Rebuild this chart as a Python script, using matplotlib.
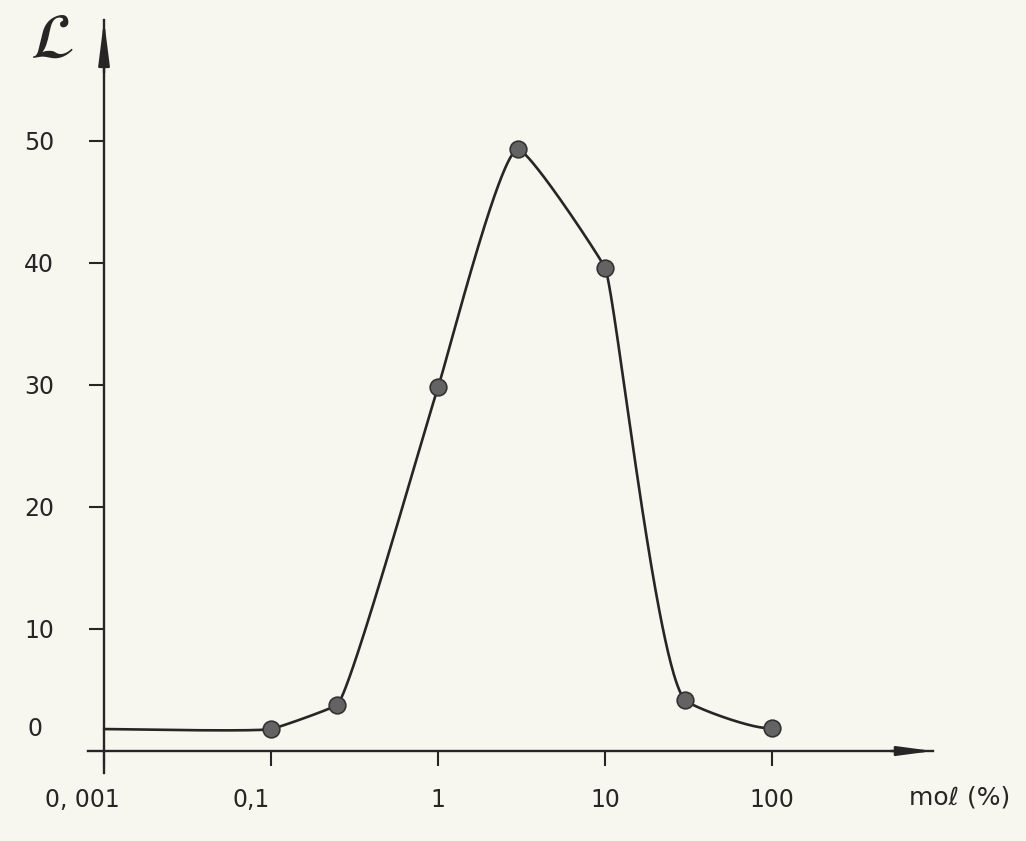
import numpy as np
import matplotlib
matplotlib.use("Agg")
import matplotlib.pyplot as plt
from matplotlib.transforms import ScaledTranslation

# ---- data ----
mol_pct = [0.1, 0.25, 1, 3, 10, 30, 100]          # mol (%)
L_values = [1.8, 3.8, 29.8, 49.3, 39.6, 4.2, 1.9]  # L
origin_level = 1.8                                  # curve level at the axis origin (0,001)

x_tick_labels = ["0, 001", "0,1", "1", "10", "100"]
x_tick_pos = [-2, -1, 0, 1, 2]     # broken log scale: origin labelled 0,001, then decades
y_ticks = [10, 20, 30, 40, 50]

# hand-drawn look: tangent tension at each curve vertex (origin + points)
TENSION = [0.3, 0.3, 0.18, 0.4, 0.22, 0.18, 0.3, 0.5]

plt.rcParams["mathtext.fontset"] = "stix"
INK = "#262626"
PAPER = "#f7f6ef"

W, H = 1026, 841
ax_rect = [88 / W, 1 - 773 / H, (933 - 88) / W, (773 - 20) / H]
xlim = (-2.096, 2.964)
ylim = (-1.8, 59.9)
sx = ax_rect[2] * W / (xlim[1] - xlim[0])   # px per x unit
sy = ax_rect[3] * H / (ylim[1] - ylim[0])   # px per y unit


def unit(v):
    return v / np.linalg.norm(v)


def smooth_curve(P, k, n=100):
    N = len(P)
    T = np.zeros_like(P)
    for i in range(1, N - 1):
        T[i] = unit(unit(P[i + 1] - P[i]) - unit(P[i - 1] - P[i]))
    # start runs along the flat baseline; end reflects its neighbour's tangent
    T[0] = unit(P[1] - P[0])
    c1 = unit(P[-1] - P[-2]); T[-1] = unit(2 * np.dot(T[-2], c1) * c1 - T[-2])
    t = np.linspace(0, 1, n)[:, None]
    h00 = 2 * t**3 - 3 * t**2 + 1; h10 = t**3 - 2 * t**2 + t
    h01 = -2 * t**3 + 3 * t**2; h11 = t**3 - t**2
    out = []
    for i in range(N - 1):
        L = np.linalg.norm(P[i + 1] - P[i])
        seg = (h00 * P[i] + h10 * k[i] * L * T[i]
               + h01 * P[i + 1] + h11 * k[i + 1] * L * T[i + 1])
        out.append(seg if i == 0 else seg[1:])
    return np.vstack(out)


u = np.log10(mol_pct)
cu = np.concatenate([[x_tick_pos[0]], u])
cy = np.concatenate([[origin_level], L_values])
Ppx = np.column_stack([cu * sx, cy * sy])
curve = smooth_curve(Ppx, TENSION)
cx_, cy_ = curve[:, 0] / sx, curve[:, 1] / sy

fig = plt.figure(figsize=(W / 100, H / 100), dpi=100, facecolor=PAPER)
ax = fig.add_axes(ax_rect)
ax.set_facecolor(PAPER)
ax.set_xlim(*xlim)
ax.set_ylim(*ylim)

ax.plot(cx_, cy_, color=INK, lw=1.9, solid_capstyle="round", solid_joinstyle="round", zorder=3)
ax.plot(u, L_values, "o", ms=12, mfc="#636363", mec="#333333", mew=1.2, zorder=4)

for s in ["top", "right"]:
    ax.spines[s].set_visible(False)
ax.spines["left"].set_position(("data", x_tick_pos[0]))
ax.spines["bottom"].set_position(("data", 0))
for s in ["left", "bottom"]:
    ax.spines[s].set_linewidth(1.7)
    ax.spines[s].set_color(INK)

ax.set_xticks(x_tick_pos)
ax.set_xticklabels(x_tick_labels)
ax.set_yticks(y_ticks)
ax.set_yticklabels([str(v) for v in y_ticks])
ax.tick_params(axis="x", direction="out", length=10.5, width=1.5, color=INK,
               pad=16, labelsize=17, labelcolor=INK)
ax.tick_params(axis="y", direction="out", length=11, width=1.5, color=INK,
               pad=25, labelsize=17, labelcolor=INK)
labs = ax.get_xticklabels()
labs[0].set_transform(labs[0].get_transform() + ScaledTranslation(-22 / 100, 0, fig.dpi_scale_trans))
labs[1].set_transform(labs[1].get_transform() + ScaledTranslation(-20 / 100, 0, fig.dpi_scale_trans))

# "0" label on the y axis, at the level of the baseline
ax.annotate("0", xy=(x_tick_pos[0], origin_level), xytext=(-44, 0), textcoords="offset points",
            ha="right", va="center", fontsize=17, color=INK)

# axis arrows
ax.annotate("", xy=(x_tick_pos[0], 1.0), xytext=(x_tick_pos[0], 0.93),
            xycoords=ax.get_xaxis_transform(),
            arrowprops=dict(arrowstyle="-|>,head_length=2.7,head_width=0.34",
                            color=INK, lw=1.7, mutation_scale=10, shrinkA=0, shrinkB=0))
ax.annotate("", xy=(1.0, 0), xytext=(0.95, 0),
            xycoords=ax.get_yaxis_transform(),
            arrowprops=dict(arrowstyle="-|>,head_length=2.1,head_width=0.28",
                            color=INK, lw=1.7, mutation_scale=10, shrinkA=0, shrinkB=0))

fig.text(52 / W, 1 - 40 / H, r"$\mathcal{L}$", fontsize=46, color=INK, ha="center", va="center")
fig.text(960 / W, 1 - 797 / H, "moℓ (%)", fontsize=18, color=INK, ha="center", va="center")

fig.savefig("out.png", dpi=100, facecolor=PAPER)
